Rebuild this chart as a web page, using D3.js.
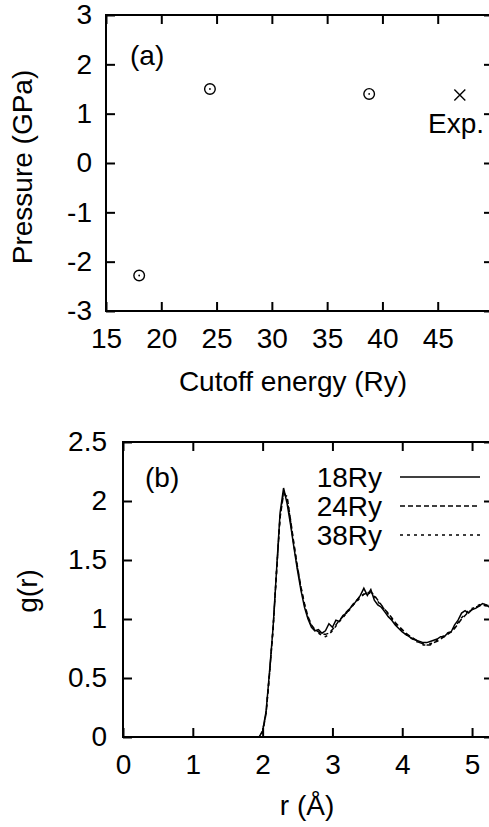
<!DOCTYPE html>
<html>
<head>
<meta charset="utf-8">
<script src="https://cdn.jsdelivr.net/npm/d3@7"></script>
<style>
  body { margin: 0; background: #fff; }
  svg { display: block; }
  text { font-family: "Liberation Sans", Arial, Helvetica, sans-serif; fill: #000; }
  .tick line { stroke: #000; stroke-width: 2; }
</style>
</head>
<body>
<div id="chart"></div>
<script>
// panel (a): pressure vs cutoff energy
var cutoffRy = [18, 24.4, 38.8];
var pressureGPa = [-2.28, 1.5, 1.4];
var expCutoff = [47];
var expPressure = [1.38];
var cutoffTicks = [15, 20, 25, 30, 35, 40, 45];
var pressureTicks = [-3, -2, -1, 0, 1, 2, 3];

// panel (b): g(r)
var rGrid = [1.90, 1.95, 2.00, 2.05, 2.10, 2.15, 2.20, 2.25, 2.30, 2.35, 2.40, 2.45,
    2.50, 2.55, 2.60, 2.65, 2.70, 2.75, 2.80, 2.85, 2.90, 2.95,
    3.00, 3.05, 3.10, 3.15, 3.20, 3.25, 3.30, 3.35, 3.40, 3.45,
    3.50, 3.55, 3.60, 3.65, 3.70, 3.75, 3.80, 3.85, 3.90, 3.95,
    4.00, 4.05, 4.10, 4.15, 4.20, 4.25, 4.30, 4.35, 4.40, 4.45,
    4.50, 4.55, 4.60, 4.65, 4.70, 4.75, 4.80, 4.85, 4.90, 4.95,
    5.00, 5.05, 5.10, 5.15, 5.20, 5.25, 5.30];
var g18 = [0.00, 0.00, 0.05, 0.22, 0.56, 0.93, 1.42, 1.90, 2.11, 1.98, 1.80, 1.60,
    1.41, 1.24, 1.10, 1.00, 0.93, 0.90, 0.91, 0.88, 0.90, 0.96,
    0.93, 0.99, 0.98, 1.03, 1.05, 1.09, 1.12, 1.16, 1.20, 1.26,
    1.20, 1.25, 1.16, 1.12, 1.10, 1.06, 1.02, 0.99, 0.95, 0.92,
    0.89, 0.87, 0.85, 0.83, 0.82, 0.81, 0.80, 0.80, 0.81, 0.82,
    0.83, 0.85, 0.85, 0.88, 0.89, 0.95, 0.99, 1.05, 1.07, 1.05,
    1.08, 1.09, 1.11, 1.13, 1.12, 1.10, 1.11];
var g24 = [0.00, 0.00, 0.04, 0.20, 0.54, 0.92, 1.40, 1.86, 2.06, 2.04, 1.84, 1.63,
    1.44, 1.27, 1.13, 1.02, 0.95, 0.91, 0.89, 0.87, 0.87, 0.88,
    0.91, 0.95, 0.99, 1.02, 1.06, 1.09, 1.13, 1.16, 1.19, 1.21,
    1.22, 1.23, 1.20, 1.16, 1.12, 1.08, 1.05, 1.01, 0.97, 0.94,
    0.91, 0.88, 0.86, 0.84, 0.82, 0.80, 0.79, 0.78, 0.78, 0.80,
    0.81, 0.83, 0.85, 0.87, 0.89, 0.92, 0.96, 1.00, 1.03, 1.06,
    1.08, 1.10, 1.11, 1.12, 1.11, 1.12, 1.11];
var g38 = [0.00, 0.00, 0.05, 0.21, 0.55, 0.92, 1.41, 1.87, 2.08, 2.02, 1.83, 1.62,
    1.43, 1.26, 1.12, 1.01, 0.94, 0.90, 0.88, 0.86, 0.85, 0.87,
    0.90, 0.94, 0.98, 1.01, 1.05, 1.08, 1.12, 1.15, 1.18, 1.21,
    1.23, 1.21, 1.19, 1.15, 1.11, 1.08, 1.04, 1.00, 0.96, 0.93,
    0.90, 0.87, 0.85, 0.83, 0.81, 0.80, 0.78, 0.78, 0.79, 0.80,
    0.82, 0.84, 0.86, 0.88, 0.90, 0.93, 0.97, 1.01, 1.04, 1.07,
    1.09, 1.10, 1.12, 1.13, 1.12, 1.11, 1.12];
var seriesNames = ["18Ry", "24Ry", "38Ry"];
var seriesDash = [null, "5,3", "3,4"];
var rTicks = [0, 1, 2, 3, 4, 5];
var gTicks = [0, 0.5, 1, 1.5, 2, 2.5];

var W = 489, H = 827;
var svg = d3.select("#chart").append("svg")
    .attr("width", W)
    .attr("height", H);

var tickLen = 9;
// plain hyphen minus, like the original plot
var fmt = function (d) { return String(d); };

// draws a mirrored-tick frame
function frame(g, x, y, xt, yt, xpad, ypad) {
    var x0 = x.range()[0], x1 = x.range()[1];
    var y0 = y.range()[1], y1 = y.range()[0];

    g.append("g")
        .attr("transform", "translate(0," + y1 + ")")
        .call(d3.axisBottom(x).tickValues(xt).tickSize(-tickLen).tickPadding(xpad).tickFormat(fmt))
        .call(function (a) { a.select(".domain").remove(); });
    g.append("g")
        .attr("transform", "translate(0," + y0 + ")")
        .call(d3.axisTop(x).tickValues(xt).tickSize(-tickLen).tickFormat(""))
        .call(function (a) { a.select(".domain").remove(); });
    g.append("g")
        .attr("transform", "translate(" + x0 + ",0)")
        .call(d3.axisLeft(y).tickValues(yt).tickSize(-tickLen).tickPadding(ypad).tickFormat(fmt))
        .call(function (a) { a.select(".domain").remove(); });
    g.append("g")
        .attr("transform", "translate(" + x1 + ",0)")
        .call(d3.axisRight(y).tickValues(yt).tickSize(-tickLen).tickFormat(""))
        .call(function (a) { a.select(".domain").remove(); });

    g.selectAll(".tick text")
        .attr("font-size", 28)
        .attr("font-family", "'Liberation Sans', Arial, sans-serif");

    g.append("rect")
        .attr("x", x0).attr("y", y0)
        .attr("width", x1 - x0).attr("height", y1 - y0)
        .attr("fill", "none")
        .attr("stroke", "#000")
        .attr("stroke-width", 2);
}

// ---- panel (a)
var xa = d3.scaleLinear().domain([15, 50]).range([106, 493]);
var ya = d3.scaleLinear().domain([-3, 3]).range([311, 15]);
var pa = svg.append("g");
frame(pa, xa, ya, cutoffTicks, pressureTicks, 17, 14);

var pts = cutoffRy.map(function (c, i) { return { c: c, p: pressureGPa[i] }; });
pa.selectAll(".pt").data(pts).enter().append("circle")
    .attr("cx", function (d) { return xa(d.c); })
    .attr("cy", function (d) { return ya(d.p); })
    .attr("r", 5.3)
    .attr("fill", "none")
    .attr("stroke", "#000")
    .attr("stroke-width", 1.4);
pa.selectAll(".dot").data(pts).enter().append("circle")
    .attr("cx", function (d) { return xa(d.c); })
    .attr("cy", function (d) { return ya(d.p); })
    .attr("r", 0.9)
    .attr("fill", "#000");

var expPts = expCutoff.map(function (c, i) { return { c: c, p: expPressure[i] }; });
var cross = d3.symbol().type(d3.symbolX).size(80);
pa.selectAll(".exp").data(expPts).enter().append("path")
    .attr("d", cross)
    .attr("transform", function (d) { return "translate(" + xa(d.c) + "," + ya(d.p) + ")"; })
    .attr("fill", "none")
    .attr("stroke", "#000")
    .attr("stroke-width", 1.4);
pa.append("text")
    .attr("x", 428).attr("y", 133)
    .attr("font-size", 28)
    .text("Exp.");

pa.append("text").attr("x", 130).attr("y", 65).attr("font-size", 28).text("(a)");
pa.append("text")
    .attr("x", 293).attr("y", 391)
    .attr("text-anchor", "middle")
    .attr("font-size", 28)
    .text("Cutoff energy (Ry)");
pa.append("text")
    .attr("transform", "translate(32,167) rotate(-90)")
    .attr("text-anchor", "middle")
    .attr("font-size", 28)
    .text("Pressure (GPa)");

// ---- panel (b)
var xb = d3.scaleLinear().domain([0, 5.3]).range([123, 493]);
var yb = d3.scaleLinear().domain([0, 2.5]).range([737, 442]);
var pb = svg.append("g");
frame(pb, xb, yb, rTicks, gTicks, 17, 16);

svg.append("clipPath").attr("id", "clipb")
    .append("rect")
    .attr("x", 123).attr("y", 442)
    .attr("width", 370).attr("height", 295);

var gSeries = [g18, g24, g38];
var line = d3.line()
    .x(function (d) { return xb(d[0]); })
    .y(function (d) { return yb(d[1]); });

pb.append("g").attr("clip-path", "url(#clipb)")
    .selectAll("path")
    .data(gSeries.map(function (s) { return rGrid.map(function (r, i) { return [r, s[i]]; }); }))
    .enter().append("path")
    .attr("d", line)
    .attr("fill", "none")
    .attr("stroke", "#000")
    .attr("stroke-width", 1.5)
    .attr("stroke-dasharray", function (d, i) { return seriesDash[i]; });

// legend
var leg = pb.selectAll(".leg").data(seriesNames).enter().append("g")
    .attr("transform", function (d, i) { return "translate(0," + (487 + i * 29) + ")"; });
leg.append("text")
    .attr("x", 382).attr("y", 0)
    .attr("text-anchor", "end")
    .attr("font-size", 28)
    .text(function (d) { return d; });
leg.append("line")
    .attr("x1", 400).attr("x2", 480)
    .attr("y1", -10).attr("y2", -10)
    .attr("stroke", "#000")
    .attr("stroke-width", 1.5)
    .attr("stroke-dasharray", function (d, i) { return seriesDash[i]; });

pb.append("text").attr("x", 145).attr("y", 487).attr("font-size", 28).text("(b)");
pb.append("text")
    .attr("x", 307).attr("y", 815)
    .attr("text-anchor", "middle")
    .attr("font-size", 28)
    .text("r (Å)");
pb.append("text")
    .attr("transform", "translate(37,591) rotate(-90)")
    .attr("text-anchor", "middle")
    .attr("font-size", 28)
    .text("g(r)");
</script>
</body>
</html>
